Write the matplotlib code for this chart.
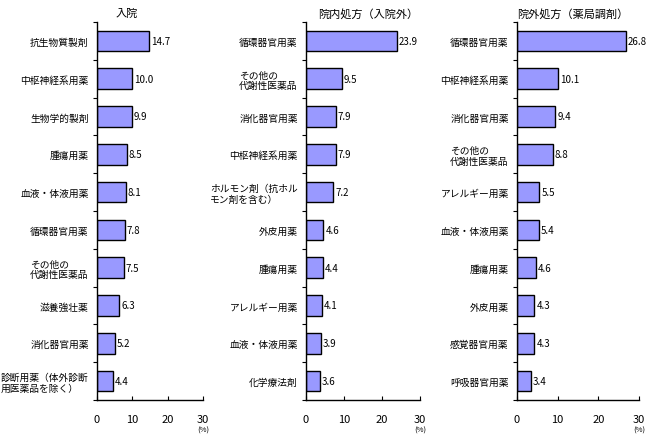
import matplotlib
matplotlib.use('Agg')
import matplotlib.pyplot as plt
import numpy as np

plt.rcParams['font.family'] = ['Noto Sans CJK JP', 'DejaVu Sans']

titles = ['入院', '院内処方（入院外）', '院外処方（薬局調剤）']

labels1 = ['抗生物質製剤', '中枢神経系用薬', '生物学的製剤', '腫瘍用薬', '血液・体液用薬',
           '循環器官用薬', 'その他の\n代謝性医薬品', '滋養強壮薬', '消化器官用薬',
           '診断用薬（体外診断\n用医薬品を除く）']
values1 = [14.7, 10.0, 9.9, 8.5, 8.1, 7.8, 7.5, 6.3, 5.2, 4.4]

labels2 = ['循環器官用薬', 'その他の\n代謝性医薬品', '消化器官用薬', '中枢神経系用薬',
           'ホルモン剤（抗ホル\nモン剤を含む）', '外皮用薬', '腫瘍用薬', 'アレルギー用薬',
           '血液・体液用薬', '化学療法剤']
values2 = [23.9, 9.5, 7.9, 7.9, 7.2, 4.6, 4.4, 4.1, 3.9, 3.6]

labels3 = ['循環器官用薬', '中枢神経系用薬', '消化器官用薬', 'その他の\n代謝性医薬品',
           'アレルギー用薬', '血液・体液用薬', '腫瘍用薬', '外皮用薬', '感覚器官用薬',
           '呼吸器官用薬']
values3 = [26.8, 10.1, 9.4, 8.8, 5.5, 5.4, 4.6, 4.3, 4.3, 3.4]

xticks = [0, 10, 20, 30]

W, H = 657, 439
fig = plt.figure(figsize=(W / 100, H / 100), dpi=100)

# pixel boxes: (left, right), title centre x
boxes = [((97, 203), 127), ((306, 420), 368), ((517, 639), 573)]
top_px, bot_px = 23, 401

for (labels, values), ((l, r), tx), title in zip(
        [(labels1, values1), (labels2, values2), (labels3, values3)], boxes, titles):
    ax = fig.add_axes([l / W, 1 - bot_px / H, (r - l) / W, (bot_px - top_px) / H])
    y = np.arange(len(values))
    ax.barh(y, values, height=0.55, color='#9999FF', edgecolor='black', linewidth=1.0)
    for yi, v in zip(y, values):
        ax.text(v + 0.5, yi, f'{v:.1f}', va='center', ha='left', fontsize=7)
    ax.set_ylim(len(values) - 0.5, -0.5)
    ax.set_xlim(0, 30)
    ax.set_xticks(xticks)
    ax.set_xticklabels([str(t) for t in xticks], fontsize=8)
    ax.set_yticks(y)
    ax.set_yticklabels(labels, fontsize=7, linespacing=1.05)
    for lab in ax.get_yticklabels():
        lab.set_multialignment('left')
    ax.set_yticks(np.arange(len(values) + 1) - 0.5, minor=True)
    ax.tick_params(axis='y', which='major', length=0, pad=6)
    ax.tick_params(axis='y', which='minor', length=3, direction='out', width=0.8)
    ax.tick_params(axis='x', length=3, direction='in', width=0.8, pad=10)
    for s in ['top', 'right']:
        ax.spines[s].set_visible(False)
    for s in ['left', 'bottom']:
        ax.spines[s].set_linewidth(1.0)
    fig.text(tx / W, 1 - 14 / H, title, ha='center', va='center', fontsize=8)
    fig.text(r / W, 1 - 431 / H, '(%)', ha='center', va='center', fontsize=5.5)

fig.savefig('out.png', dpi=100)
